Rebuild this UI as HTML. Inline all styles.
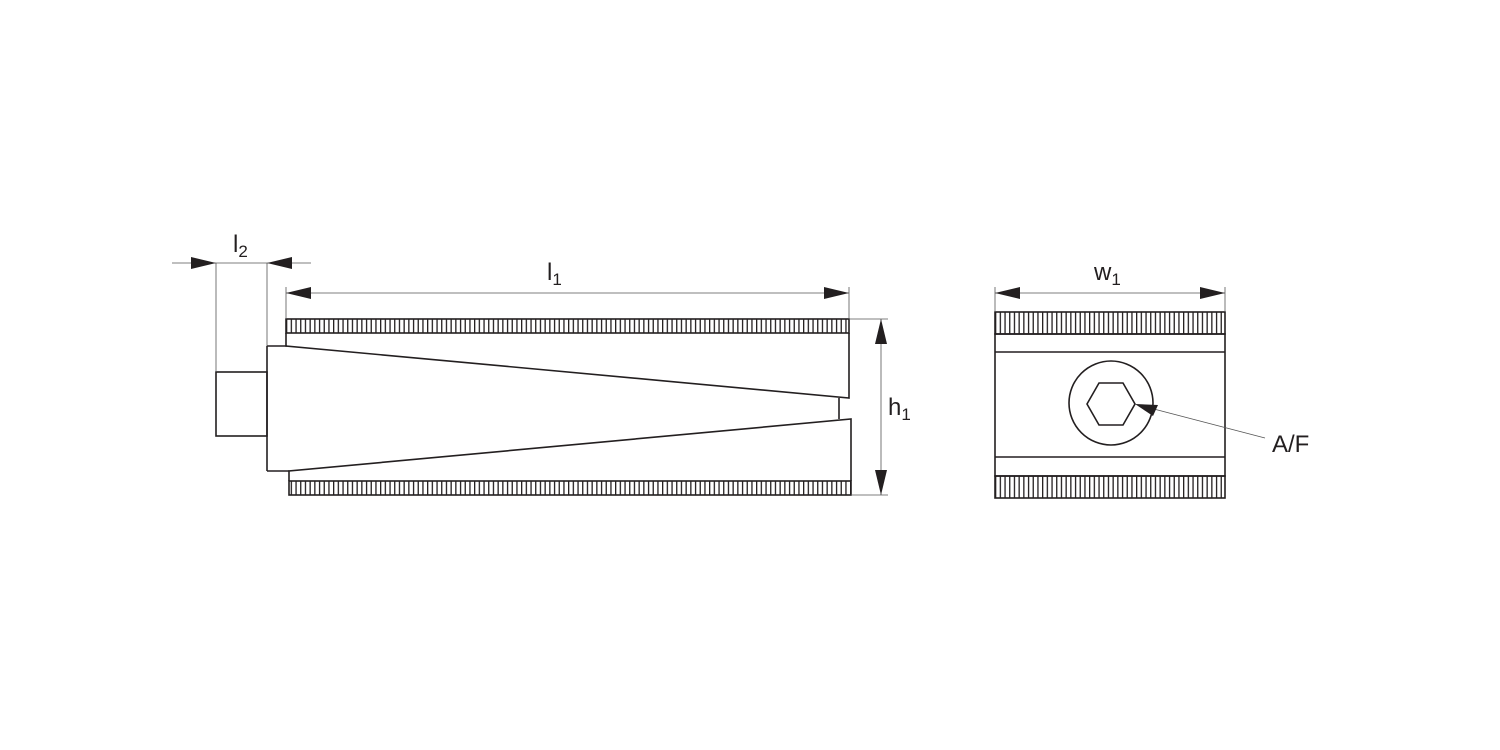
<!DOCTYPE html>
<html><head><style>html,body{margin:0;padding:0;background:#fff}svg{display:block}</style></head><body>
<svg width="1500" height="750" viewBox="0 0 1500 750" xmlns="http://www.w3.org/2000/svg">
<defs>
<pattern id="k" x="286" y="0" width="4.7" height="10" patternUnits="userSpaceOnUse"><rect x="0" y="0" width="1.3" height="10" fill="#231f20"/></pattern>
<pattern id="k2" x="995" y="0" width="4.7" height="10" patternUnits="userSpaceOnUse"><rect x="0" y="0" width="1.3" height="10" fill="#231f20"/></pattern>
</defs>
<g fill="none" stroke="#231f20" stroke-width="1.6">
<rect x="286" y="319" width="563" height="14" fill="url(#k)"/>
<rect x="289" y="481" width="562" height="14" fill="url(#k)"/>
<line x1="267" y1="346" x2="267" y2="471"/>
<line x1="267" y1="346" x2="287" y2="346"/>
<line x1="267" y1="471" x2="289" y2="471"/>
<rect x="216" y="372" width="51" height="64"/>
<polyline points="286,333 286,346 849,398 849,333"/>
<polyline points="289,481 289,471 851,419 851,481"/>
<line x1="839" y1="398" x2="839" y2="419"/>
<rect x="995" y="312" width="230" height="22" fill="url(#k2)"/>
<rect x="995" y="476" width="230" height="22" fill="url(#k2)"/>
<rect x="995" y="334" width="230" height="142"/>
<line x1="995" y1="352" x2="1225" y2="352"/>
<line x1="995" y1="457" x2="1225" y2="457"/>
<circle cx="1111" cy="403" r="42"/>
<polygon points="1087,404 1099,383 1123,383 1135,404 1123,425 1099,425"/>
</g>
<g stroke="#555" stroke-width="0.8" fill="none">
<line x1="172" y1="263" x2="311" y2="263"/>
<line x1="216" y1="263" x2="216" y2="372"/>
<line x1="267" y1="263" x2="267" y2="346"/>
<line x1="286" y1="293" x2="849" y2="293"/>
<line x1="286" y1="287" x2="286" y2="319"/>
<line x1="849" y1="287" x2="849" y2="319"/>
<line x1="849" y1="319" x2="888" y2="319"/>
<line x1="851" y1="495" x2="888" y2="495"/>
<line x1="881" y1="319" x2="881" y2="495"/>
<line x1="995" y1="293" x2="1225" y2="293"/>
<line x1="995" y1="287" x2="995" y2="312"/>
<line x1="1225" y1="287" x2="1225" y2="312"/>
<line x1="1150" y1="408" x2="1265" y2="438"/>
</g>
<g fill="#231f20">
<polygon points="216,263 191,257 191,269"/>
<polygon points="267,263 292,257 292,269"/>
<polygon points="286,293 311,287 311,299"/>
<polygon points="849,293 824,287 824,299"/>
<polygon points="881,319 875,344 887,344"/>
<polygon points="881,495 875,470 887,470"/>
<polygon points="995,293 1020,287 1020,299"/>
<polygon points="1225,293 1200,287 1200,299"/>
<polygon points="1135,404 1158,405 1153,416"/>
</g>
<g font-family="Liberation Sans, sans-serif" fill="#231f20" font-size="24">
<text x="233" y="252">l<tspan font-size="17" dy="5">2</tspan></text>
<text x="547" y="280">l<tspan font-size="17" dy="5">1</tspan></text>
<text x="888" y="415">h<tspan font-size="17" dy="5">1</tspan></text>
<text x="1094" y="280">w<tspan font-size="17" dy="5">1</tspan></text>
<text x="1272" y="452">A/F</text>
</g>
</svg>
</body></html>
